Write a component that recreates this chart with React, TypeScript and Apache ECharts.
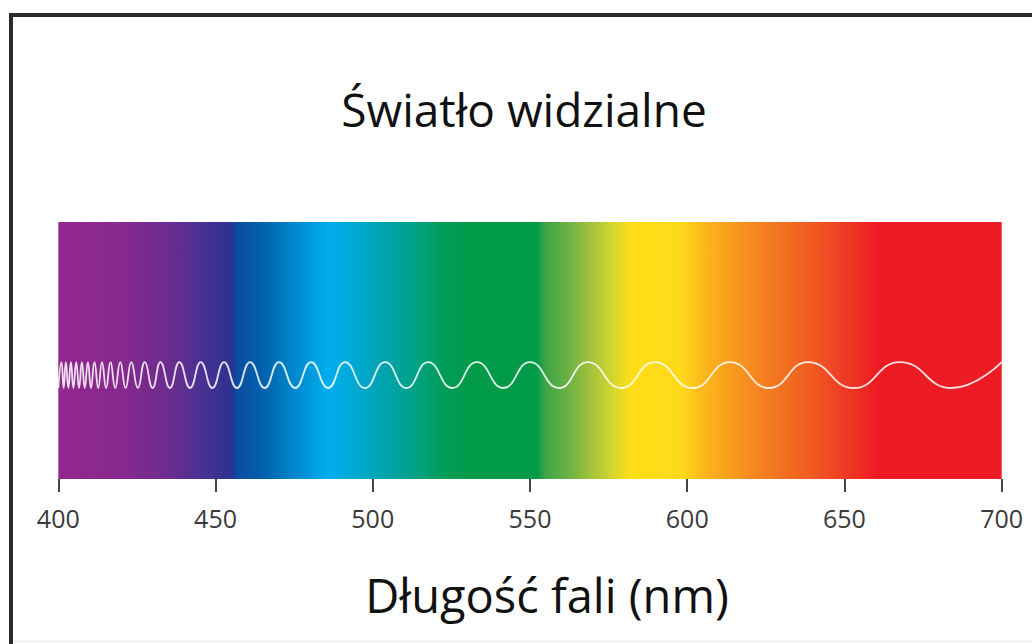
import React, { useEffect, useRef } from "react";
import * as echarts from "echarts";

const titleText = "Światło widzialne";
const axisTitle = "Długość fali (nm)";
const tickValues = [400, 450, 500, 550, 600, 650, 700];

// spectrum colour stops (wavelength nm -> colour)
const spectrumNm = [400, 420, 435, 445, 455, 457, 465, 475, 486, 495, 505, 515, 522, 531, 552, 555, 563, 570, 577, 582, 598, 605, 615, 625, 640, 652, 660, 700];
const spectrumColors = [
  "#92278F", "#86298E", "#6B2D8E", "#4B3192", "#2E3192", "#0B4EA2", "#0061AB", "#0088CC",
  "#00AEEF", "#00A8D0", "#00A3A8", "#00A27E", "#009D57", "#009A49", "#009A49", "#3FA546",
  "#72B244", "#A8C43A", "#D9D72B", "#FFDE17", "#FFD91A", "#FDB81D", "#F8991D", "#F47D20",
  "#F05A23", "#EE3524", "#ED1C24", "#ED1C24",
];

// wave extrema positions (nm)
const crestNm = [401.0, 402.4, 404.0, 405.7, 407.5, 409.4, 411.5, 413.9, 416.6, 419.7, 423.2, 427.5, 432.5, 438.5, 445.3, 452.7, 461.0, 470.2, 480.4, 491.2, 503.9, 517.6, 533.1, 550.0, 568.4, 589.7, 613.6, 638.4, 667.6, 700.0];
const troughNm = [400.0, 401.7, 403.2, 404.8, 406.6, 408.4, 410.4, 412.7, 415.2, 418.1, 421.4, 425.3, 430.0, 435.5, 441.9, 449.0, 456.8, 465.6, 475.3, 485.8, 497.5, 510.7, 525.3, 541.5, 559.2, 579.0, 601.7, 626.0, 653.0, 684.0];
const crestLevel = 45.5;
const troughLevel = 35.4;
const bandTop = 100;

export default function App() {
  const ref = useRef<HTMLDivElement>(null);
  useEffect(() => {
    if (!ref.current) return;
    const chart = echarts.init(ref.current, undefined, { renderer: "svg" });
    const stops = spectrumNm.map((nm, i) => ({ offset: (nm - 400) / 300, color: spectrumColors[i] }));
    const wave: number[][] = [];
    for (let i = 0; i < crestNm.length; i++) {
      wave.push([troughNm[i], troughLevel]);
      wave.push([crestNm[i], crestLevel]);
    }
    chart.setOption({
      animation: false,
      backgroundColor: "#ffffff",
      title: {
        text: titleText,
        left: 524,
        top: 86,
        textAlign: "center",
        padding: 0,
        textStyle: { fontFamily: "Open Sans", fontSize: 46, fontWeight: "normal", color: "#111111" },
      },
      grid: { left: 58.3, right: 30.3, top: 222, bottom: 165 },
      xAxis: {
        type: "value",
        min: 400,
        max: 700,
        interval: 50,
        offset: 4,
        axisLine: { show: false },
        axisTick: { show: true, length: 13, lineStyle: { color: "#444444", width: 2 } },
        splitLine: { show: false },
        axisLabel: {
          margin: 22,
          fontFamily: "Open Sans",
          fontSize: 25,
          color: "#3a3a3a",
          formatter: (v: number) => (tickValues.includes(v) ? String(v) : ""),
        },
        name: axisTitle,
        nameLocation: "middle",
        nameGap: 88,
        nameTextStyle: { fontFamily: "Open Sans", fontSize: 47, color: "#111111", padding: [0, 0, 0, 34] },
      },
      yAxis: { type: "value", min: 0, max: 100, show: false },
      graphic: [
        {
          type: "rect",
          shape: { x: 11, y: 15, width: 1200, height: 800 },
          style: { fill: "none", stroke: "#2b2b2b", lineWidth: 4 },
          silent: true,
        },
        {
          type: "line",
          shape: { x1: 13, y1: 641.5, x2: 1032, y2: 641.5 },
          style: { stroke: "#f2f2f2", lineWidth: 2 },
          silent: true,
        },
      ],
      series: [
        {
          type: "line",
          data: [[400, bandTop], [700, bandTop]],
          symbol: "none",
          lineStyle: { width: 0 },
          areaStyle: { opacity: 1, color: new echarts.graphic.LinearGradient(0, 0, 1, 0, stops) },
          silent: true,
          z: 1,
        },
        {
          type: "line",
          data: wave,
          smooth: true,
          symbol: "none",
          lineStyle: { color: "rgba(255,255,255,0.85)", width: 1.8 },
          silent: true,
          z: 2,
        },
      ],
    });
    return () => chart.dispose();
  }, []);
  return <div ref={ref} style={{ position: "fixed", left: 0, top: 0, width: 1032, height: 644 }} />;
}
